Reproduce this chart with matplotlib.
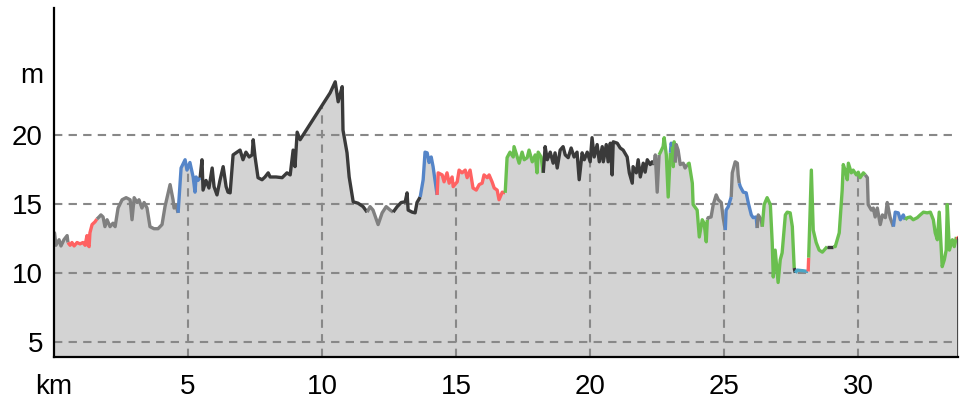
import numpy as np
import matplotlib
matplotlib.use("Agg")
import matplotlib.pyplot as plt

plt.rcParams['font.family'] = ['Liberation Sans', 'DejaVu Sans']

distance_km = [
    0.02, 0.07, 0.19, 0.26, 0.37, 0.49, 0.52,
    0.60, 0.67, 0.75, 0.86, 0.97, 1.08, 1.16, 1.23, 1.27, 1.31, 1.34, 1.42, 1.53, 1.60,
    1.68, 1.75, 1.83, 1.90, 1.98, 2.09, 2.20, 2.28, 2.39, 2.54, 2.69, 2.84, 2.91, 2.99,
    3.10, 3.17, 3.28, 3.36, 3.47, 3.58, 3.73, 3.88, 4.03, 4.14, 4.33, 4.44, 4.48, 4.55, 4.63,
    4.74, 4.89, 4.96, 5.07, 5.19, 5.26, 5.30, 5.37, 5.45,
    5.52, 5.56, 5.67, 5.78, 5.90, 5.97, 6.08, 6.19, 6.31, 6.42, 6.49, 6.57, 6.68, 6.79,
    6.94, 7.05, 7.16, 7.28, 7.39, 7.43, 7.50, 7.61, 7.76, 7.87, 7.99, 8.06, 8.28, 8.51,
    8.69, 8.81, 8.92, 8.99, 9.07, 9.18, 10.30, 10.49, 10.60, 10.71, 10.75, 10.78, 10.93,
    11.01, 11.16, 11.34, 11.53, 11.68,
    11.79, 11.90, 12.09, 12.24, 12.39, 12.54, 12.65,
    12.80, 12.95, 13.10, 13.17, 13.21, 13.36, 13.47, 13.54, 13.66,
    13.77, 13.84, 13.92, 13.99, 14.07, 14.14, 14.29,
    14.33, 14.48, 14.55, 14.66, 14.74, 14.85, 14.89, 15.04, 15.11, 15.22, 15.34, 15.41,
    15.52, 15.63, 15.75, 15.86, 15.97, 16.04, 16.16, 16.23, 16.34, 16.42, 16.53, 16.60,
    16.72, 16.83,
    16.90, 17.01, 17.13, 17.16, 17.28, 17.35, 17.46, 17.54, 17.65, 17.72, 17.84, 17.95,
    18.02, 18.06, 18.17, 18.25,
    18.32, 18.40, 18.51, 18.62, 18.69, 18.77, 18.88, 18.99, 19.07, 19.18, 19.29, 19.40,
    19.51, 19.59, 19.70, 19.78, 19.89, 20.00, 20.07, 20.15, 20.26, 20.34, 20.45, 20.49,
    20.60, 20.67, 20.75, 20.82, 20.86, 21.01, 21.12, 21.23, 21.38, 21.46, 21.57, 21.60,
    21.72, 21.79, 21.87, 21.98, 22.05, 22.13, 22.24, 22.31, 22.39,
    22.43, 22.50, 22.57,
    22.61, 22.72, 22.76, 22.84, 22.91, 22.99,
    23.02, 23.06,
    23.10, 23.13, 23.17,
    23.21, 23.28, 23.36, 23.47, 23.54, 23.62,
    23.69, 23.81, 23.84, 23.99, 24.07, 24.18, 24.25, 24.33, 24.37,
    24.40, 24.51, 24.59, 24.70, 24.78, 24.89, 24.96, 25.04,
    25.07, 25.15, 25.26,
    25.30, 25.41, 25.49, 25.52, 25.56,
    25.60, 25.71, 25.82, 25.90, 26.01, 26.08, 26.19, 26.23,
    26.27, 26.38, 26.42,
    26.49, 26.60, 26.72, 26.79, 26.83, 26.90, 27.01, 27.09, 27.16, 27.28, 27.35, 27.46,
    27.54, 27.61,
    27.65,
    27.72, 27.95, 28.13,
    28.15,
    28.25, 28.32, 28.43, 28.54, 28.66, 28.84,
    28.96, 29.07,
    29.14, 29.29, 29.40, 29.44, 29.51, 29.59, 29.63, 29.74, 29.81, 29.93, 30.00, 30.07,
    30.19, 30.26,
    30.34, 30.37, 30.49, 30.56, 30.63, 30.71, 30.82, 30.90, 31.01, 31.08, 31.19, 31.31,
    31.38, 31.49, 31.57, 31.68, 31.75,
    31.83, 31.94, 32.05, 32.20, 32.31, 32.43, 32.57, 32.69, 32.80, 32.87, 32.95, 33.02,
    33.13, 33.21, 33.28, 33.32, 33.40, 33.51, 33.58, 33.66,
    33.72,
]

elevation_m = [
    12.9, 12.0, 12.4, 11.95, 12.4, 12.7, 12.2,
    12.0, 12.2, 11.95, 12.2, 12.1, 12.2, 12.0, 12.7, 12.0, 11.9, 12.9, 13.5, 13.7, 13.9,
    14.05, 14.2, 14.05, 13.35, 13.85, 13.35, 13.6, 13.35, 14.7, 15.3, 15.45, 15.3, 13.85, 15.45,
    15.1, 15.3, 14.7, 15.1, 14.7, 13.35, 13.2, 13.2, 13.5, 14.8, 16.4, 15.3, 14.7, 14.9, 14.35,
    17.6, 18.2, 17.45, 18.0, 16.95, 15.85, 16.95, 16.7, 16.9,
    18.2, 16.0, 16.7, 16.15, 17.6, 16.25, 15.65, 16.7, 17.7, 16.25, 15.85, 15.8, 18.55, 18.7,
    18.9, 18.2, 18.75, 18.4, 18.55, 19.65, 18.4, 16.9, 16.75, 16.95, 17.25, 16.95, 16.95, 16.9,
    17.25, 17.1, 18.9, 17.7, 20.2, 19.65, 23.05, 23.85, 22.4, 23.2, 23.5, 20.35, 18.7,
    16.95, 15.15, 15.05, 14.8, 14.4,
    14.8, 14.55, 13.5, 14.35, 14.8, 14.55, 14.4,
    14.8, 15.1, 15.15, 15.8, 14.55, 14.4, 14.35, 15.1, 15.5,
    16.75, 18.75, 18.7, 18.0, 18.4, 17.7, 15.65,
    17.25, 17.1, 16.6, 17.25, 16.5, 16.95, 16.25, 16.6, 17.45, 17.25, 17.45, 16.9,
    17.45, 16.15, 16.0, 16.4, 16.5, 17.1, 16.9, 17.1, 16.6, 16.15, 16.0, 15.3,
    15.85, 15.8,
    18.35, 18.75, 18.4, 19.15, 18.4, 17.95, 18.75, 18.2, 18.35, 18.9, 18.05, 18.55,
    17.25, 18.75, 18.4, 17.25,
    19.15, 18.2, 18.75, 17.95, 18.7, 17.6, 18.9, 19.15, 18.55, 18.35, 19.05, 18.4,
    18.75, 16.75, 18.7, 18.2, 18.75, 18.05, 19.8, 18.4, 19.3, 18.05, 19.15, 18.05,
    19.3, 18.05, 19.4, 17.1, 19.5, 19.4, 19.05, 18.9, 18.4, 17.25, 16.5, 17.7,
    17.25, 18.2, 16.95, 17.95, 17.3, 18.2, 17.85, 18.05, 17.85,
    18.55, 15.85, 18.55,
    18.7, 19.15, 19.8, 18.55, 15.5, 18.7,
    19.4, 19.15,
    17.7, 19.5, 18.0,
    19.3, 18.9, 17.85, 17.95, 17.6, 17.85,
    17.95, 16.5, 14.95, 14.55, 12.6, 13.85, 13.6, 12.25, 13.85,
    14.0, 14.05, 14.95, 15.65, 15.3, 15.1, 14.0, 13.1,
    14.55, 14.8, 15.5,
    17.25, 18.05, 17.95, 17.1, 16.5,
    16.25, 15.85, 15.8, 15.05, 14.2, 14.0, 14.05, 13.25,
    14.2, 13.85, 13.35,
    14.95, 15.45, 14.95, 12.2, 9.7, 11.65, 9.3, 10.95, 11.45, 14.2, 14.4, 14.35,
    13.35, 10.35,
    10.0,
    10.2, 10.15, 10.1,
    11.1,
    17.45, 13.1, 12.2, 11.65, 11.5, 11.9,
    11.9, 11.9,
    11.9, 12.9, 16.0, 17.85, 17.45, 16.75, 17.95, 17.25, 17.45, 17.1, 17.3, 16.9,
    17.25, 17.1,
    16.9, 14.95, 14.55, 14.7, 14.05, 14.7, 13.5, 14.2, 14.0, 15.1, 14.0, 13.35,
    14.4, 14.35, 13.85, 14.2, 13.85,
    14.0, 14.05, 13.85, 14.0, 14.2, 14.4, 14.35, 14.4, 13.85, 12.9, 12.4, 14.4,
    10.45, 10.95, 11.65, 14.95, 11.65, 12.4, 11.9, 12.6,
    12.5,
]

segment_start_km = [0.0, 0.52, 1.60, 4.63, 5.45, 11.68, 12.65, 13.66, 14.29, 16.83,
                    18.25, 22.39, 22.57, 22.99, 23.06, 23.17, 23.62, 24.37, 25.04,
                    25.26, 25.56, 26.23, 26.42, 27.61, 27.65, 28.13, 28.15, 28.84,
                    29.07, 30.26, 31.31, 31.75, 33.66]
segment_class = ['gray', 'red', 'gray', 'blue', 'dark', 'gray', 'dark', 'blue', 'red',
                 'green', 'dark', 'gray', 'green', 'blue', 'green', 'gray', 'green',
                 'gray', 'blue', 'gray', 'blue', 'gray', 'green', 'dark', 'teal',
                 'red', 'green', 'dark', 'green', 'gray', 'blue', 'green', 'red']

x_tick_values = [0, 5, 10, 15, 20, 25, 30]
x_tick_labels = ['km', '5', '10', '15', '20', '25', '30']
y_tick_values = [5, 10, 15, 20, 24.5]
y_tick_labels = ['5', '10', '15', '20', 'm']

colors = {
    'gray': '#808080',
    'dark': '#3a3a3a',
    'red': '#ff6262',
    'blue': '#5585c8',
    'green': '#6abf4f',
    'teal': '#4aa6c6',
}

d = np.array(distance_km)
e = np.array(elevation_m)
ymin, ymax = 3.9, 29.2
xmin, xmax = 0.0, d[-1]

fig = plt.figure(figsize=(9.61, 4.03), dpi=100)
ax = fig.add_axes([54 / 961, 46 / 403, (958 - 54) / 961, (357 - 8) / 403])
ax.set_xlim(xmin, xmax)
ax.set_ylim(ymin, ymax)

ax.fill_between(d, e, ymin, color='#d3d3d3', lw=0, zorder=1)

grid_kw = dict(color='#888888', lw=1.5, dashes=(4, 3), zorder=2)
for yv in [5, 10, 15, 20]:
    ax.plot([xmin, xmax], [yv, yv], **grid_kw)
for xv in [5, 10, 15, 20, 25, 30]:
    ax.plot([xv, xv], [ymin, np.interp(xv, d, e)], **grid_kw)

bounds = segment_start_km + [d[-1]]
for i, cls in enumerate(segment_class):
    a, b = bounds[i], bounds[i + 1]
    inner = d[(d > a) & (d < b)]
    xs = np.concatenate([[a], inner, [b]])
    ys = np.interp(xs, d, e)
    ax.plot(xs, ys, color=colors[cls], lw=2.4, solid_capstyle='butt',
            solid_joinstyle='round', zorder=3)

ax.plot([d[-1], d[-1]], [ymin, e[-1]], color=colors['dark'], lw=2.0, zorder=3)

for s in ['top', 'right']:
    ax.spines[s].set_visible(False)
for s in ['left', 'bottom']:
    ax.spines[s].set_color('black')
    ax.spines[s].set_linewidth(1.6)
    ax.spines[s].set_zorder(4)

ax.set_xticks(x_tick_values)
ax.set_xticklabels(x_tick_labels)
ax.set_yticks(y_tick_values)
ax.set_yticklabels(y_tick_labels)
ax.tick_params(axis='both', length=0, labelsize=20, colors='black')
ax.tick_params(axis='x', pad=12)
ax.tick_params(axis='y', pad=8)

fig.savefig('out.png', dpi=100)
